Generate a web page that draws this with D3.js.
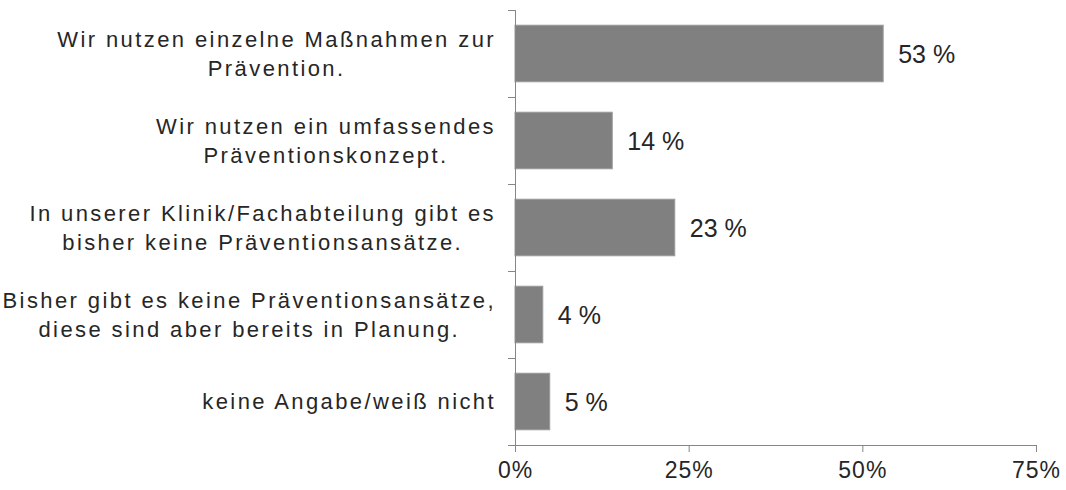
<!DOCTYPE html>
<html>
<head>
<meta charset="utf-8">
<script src="https://cdn.jsdelivr.net/npm/d3@7"></script>
<style>
  body { margin: 0; background: #fff; }
  text { font-family: "Liberation Sans", Arial, sans-serif; fill: #262626; }
</style>
</head>
<body>
<div id="chart"></div>
<script>
// categories, each one split into its display lines
var categories = [
  ["Wir nutzen einzelne Maßnahmen zur", "Prävention."],
  ["Wir nutzen ein umfassendes", "Präventionskonzept."],
  ["In unserer Klinik/Fachabteilung gibt es", "bisher keine Präventionsansätze."],
  ["Bisher gibt es keine Präventionsansätze,", "diese sind aber bereits in Planung."],
  ["keine Angabe/weiß nicht"]
];
var values = [53, 14, 23, 4, 5];
var tickValues = [0, 25, 50, 75];

var w = 1066, h = 490;
var plotLeft = 515, plotRight = 1036, plotTop = 10, plotBottom = 445;

var svg = d3.select("#chart").append("svg")
    .attr("width", w)
    .attr("height", h);

var data = categories.map(function(c, i) { return {lines: c, value: values[i], key: i}; });

var x = d3.scaleLinear().domain([0, 75]).range([plotLeft, plotRight]);
var y = d3.scaleBand()
    .domain(data.map(function(d) { return d.key; }))
    .range([plotTop, plotBottom])
    .paddingInner(0.35)
    .paddingOuter(0.175);

// bars
svg.selectAll(".bar")
    .data(data)
    .enter()
    .append("rect")
    .attr("class", "bar")
    .attr("x", x(0))
    .attr("y", function(d) { return y(d.key); })
    .attr("width", function(d) { return x(d.value) - x(0); })
    .attr("height", y.bandwidth())
    .attr("fill", "#808080")
    .attr("stroke", "#9a9a9a")
    .attr("stroke-width", 1);

// value labels
svg.selectAll(".val")
    .data(data)
    .enter()
    .append("text")
    .attr("class", "val")
    .attr("x", function(d) { return x(d.value) + 15; })
    .attr("y", function(d) { return y(d.key) + y.bandwidth() / 2; })
    .attr("dy", "0.36em")
    .attr("font-size", "25px")
    .text(function(d) { return d.value + " %"; });

// x axis
var xAxis = svg.append("g")
    .attr("transform", "translate(0," + plotBottom + ")")
    .call(d3.axisBottom(x).tickValues(tickValues).tickSize(7).tickPadding(10)
        .tickFormat(function(d) { return d + "%"; }));
xAxis.select(".domain").attr("stroke", "#868686").attr("d", "M" + plotLeft + ",0.5H" + plotRight);
xAxis.selectAll(".tick line").attr("stroke", "#868686");
xAxis.selectAll(".tick text")
    .attr("font-size", "23px")
    .attr("font-family", "Liberation Sans, Arial, sans-serif")
    .style("letter-spacing", "1px")
    .attr("fill", "#262626");

// y axis: line plus ticks between the categories
svg.append("line")
    .attr("x1", plotLeft + 0.5).attr("x2", plotLeft + 0.5)
    .attr("y1", plotTop).attr("y2", plotBottom)
    .attr("stroke", "#868686");
var step = y.step();
var bounds = d3.range(data.length + 1).map(function(i) { return plotTop + i * step; });
svg.selectAll(".ytick")
    .data(bounds)
    .enter()
    .append("line")
    .attr("x1", plotLeft - 7).attr("x2", plotLeft)
    .attr("y1", function(d) { return Math.round(d) + 0.5; })
    .attr("y2", function(d) { return Math.round(d) + 0.5; })
    .attr("stroke", "#868686");

// category labels, lines centred on each other, block right-aligned
var labelRight = 496, lineGap = 29;
var groups = svg.selectAll(".cat")
    .data(data)
    .enter()
    .append("g")
    .attr("class", "cat");

groups.each(function(d) {
    var g = d3.select(this);
    var cy = y(d.key) + y.bandwidth() / 2;
    var n = d.lines.length;
    var texts = g.selectAll("text")
        .data(d.lines)
        .enter()
        .append("text")
        .attr("font-size", "22px")
        .style("letter-spacing", "2.4px")
        .attr("text-anchor", "middle")
        .attr("y", function(l, i) { return cy + (i - (n - 1) / 2) * lineGap; })
        .attr("dy", "0.36em")
        .text(function(l) { return l; });
    var maxW = d3.max(texts.nodes(), function(t) { return t.getComputedTextLength(); });
    texts.attr("x", labelRight - maxW / 2);
});
</script>
</body>
</html>
